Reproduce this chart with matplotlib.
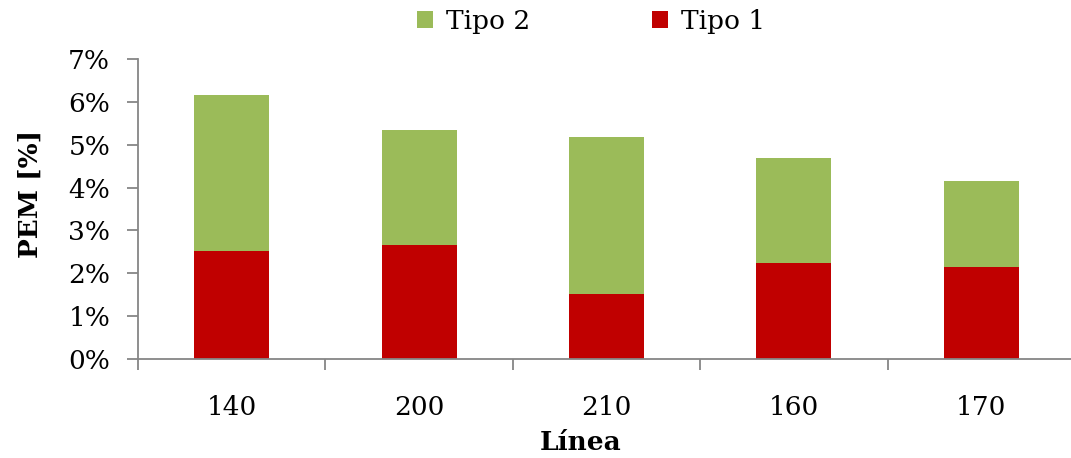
import matplotlib
matplotlib.use('Agg')
import matplotlib.pyplot as plt
from matplotlib.ticker import FuncFormatter

lineas = ['140', '200', '210', '160', '170']
tipo1 = [2.52, 2.66, 1.52, 2.24, 2.15]
tipo2 = [3.64, 2.68, 3.66, 2.45, 2.00]

plt.rcParams['font.family'] = 'DejaVu Serif'

fig = plt.figure(figsize=(10.71, 4.58), dpi=100)
ax = fig.add_axes([138 / 1071, 99 / 458, 937 / 1071, 300 / 458])

x = range(len(lineas))
ax.bar(x, tipo1, width=0.4, color='#C00000', label='Tipo 1')
ax.bar(x, tipo2, width=0.4, bottom=tipo1, color='#9BBB59', label='Tipo 2')

ax.set_xlim(-0.5, len(lineas) - 0.5)
ax.set_ylim(0, 7)
ax.set_yticks(range(0, 8))
ax.yaxis.set_major_formatter(FuncFormatter(lambda v, p: f'{v:.0f}%'))

# category labels between boundary ticks
ax.set_xticks([i - 0.5 for i in range(len(lineas) + 1)])
ax.set_xticklabels([])
ax.set_xticks(list(x), minor=True)
ax.set_xticklabels(lineas, minor=True)
ax.tick_params(axis='x', which='minor', length=0, pad=26, labelsize=19)
ax.tick_params(axis='x', which='major', length=8, color='#868686', width=1.3)
ax.tick_params(axis='y', length=8, color='#868686', width=1.3, labelsize=19, pad=12)

for s in ['top', 'right']:
    ax.spines[s].set_visible(False)
for s in ['left', 'bottom']:
    ax.spines[s].set_color('#868686')
    ax.spines[s].set_linewidth(1.3)

fig.text(30 / 1071, 1 - 194 / 458, 'PEM [%]', fontsize=19, fontweight='bold',
         rotation=90, ha='center', va='center')
fig.text(581 / 1071, 1 - 442 / 458, 'Línea', fontsize=19, fontweight='bold',
         ha='center', va='center')

h, l = ax.get_legend_handles_labels()
fig.legend(h[::-1], l[::-1], loc='center', bbox_to_anchor=(591 / 1071, 1 - 21 / 458),
           ncol=2, frameon=False, fontsize=19, handlelength=0.6, handleheight=0.6,
           handletextpad=0.5, columnspacing=4.6)

fig.savefig('out.png', dpi=100)
